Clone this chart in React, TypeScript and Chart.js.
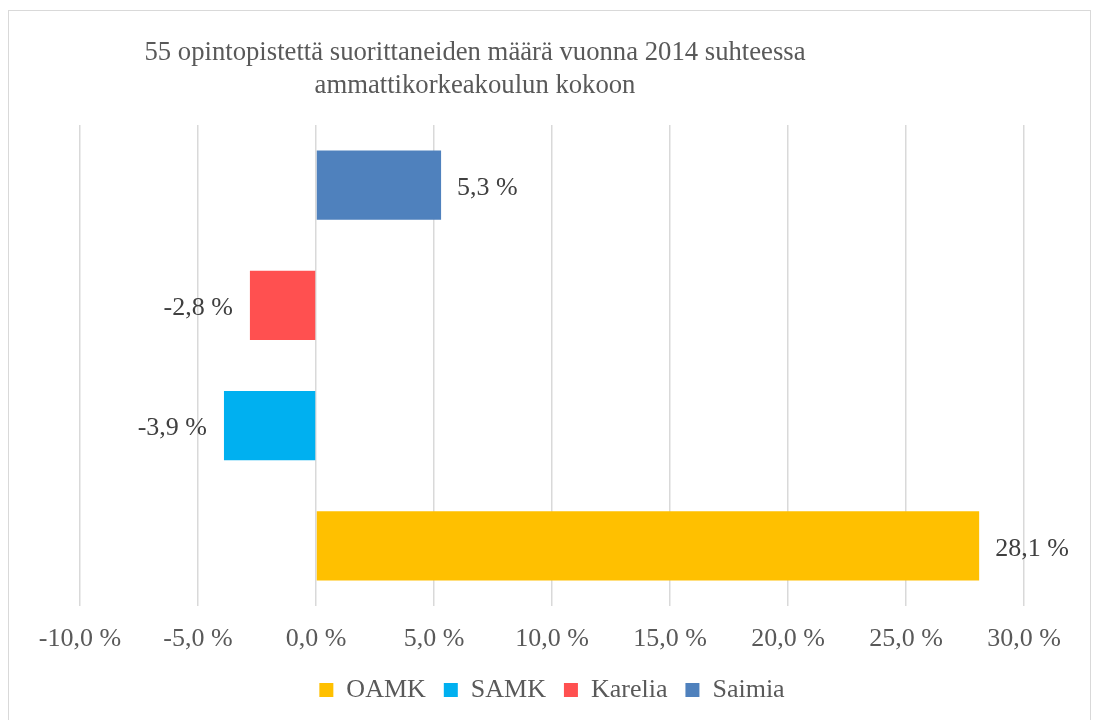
import React, { useEffect, useRef } from "react";
import { Chart, registerables } from "chart.js";

Chart.register(...registerables);

const categories: string[] = ["2014"];
const seriesNames: string[] = ["Saimia", "Karelia", "SAMK", "OAMK"];
const seriesValues: number[] = [5.3, -2.8, -3.9, 28.1];
const seriesColors: string[] = ["#4F81BD", "#FF5050", "#00B0F0", "#FFC000"];
const titleLines: string[] = [
  "55 opintopistettä suorittaneiden määrä vuonna 2014 suhteessa",
  "ammattikorkeakoulun kokoon",
];
const xMin = -10;
const xMax = 30;
const xStep = 5;

const FONT = "'Liberation Serif', 'Times New Roman', serif";
const fmt = (v: number) => v.toFixed(1).replace(".", ",") + " %";

const framePlugin = {
  id: "frame",
  beforeDraw(chart: any) {
    const ctx = chart.ctx;
    ctx.save();
    ctx.fillStyle = "#ffffff";
    ctx.fillRect(0, 0, chart.width, chart.height);
    ctx.strokeStyle = "#d9d9d9";
    ctx.lineWidth = 1;
    ctx.strokeRect(8.5, 10.5, 1082, 730);
    ctx.restore();
  },
  afterDraw(chart: any) {
    const ctx = chart.ctx;
    ctx.save();
    ctx.fillStyle = "#595959";
    ctx.font = `26.7px ${FONT}`;
    ctx.textAlign = "center";
    ctx.textBaseline = "alphabetic";
    ctx.fillText(titleLines[0], 475, 60);
    ctx.fillText(titleLines[1], 475, 93);
    ctx.restore();
  },
};

const labelPlugin = {
  id: "valueLabels",
  afterDatasetsDraw(chart: any) {
    const ctx = chart.ctx;
    ctx.save();
    ctx.fillStyle = "#404040";
    ctx.font = `26px ${FONT}`;
    ctx.textBaseline = "middle";
    chart.data.datasets.forEach((ds: any, i: number) => {
      const meta = chart.getDatasetMeta(i);
      meta.data.forEach((el: any, j: number) => {
        const v = ds.data[j] as number;
        if (v >= 0) {
          ctx.textAlign = "left";
          ctx.fillText(fmt(v), el.x + 16, el.y + 3);
        } else {
          ctx.textAlign = "right";
          ctx.fillText(fmt(v), el.x - 17, el.y + 3);
        }
      });
    });
    ctx.restore();
  },
};

export default function App() {
  const ref = useRef<HTMLCanvasElement | null>(null);
  useEffect(() => {
    document.body.style.margin = "0";
    document.body.style.overflow = "hidden";
    const canvas = ref.current!;
    const chart = new Chart(canvas, {
      type: "bar",
      data: {
        labels: categories,
        datasets: seriesNames.map((name, i) => ({
          label: name,
          data: [seriesValues[i]],
          backgroundColor: seriesColors[i],
          borderWidth: 0,
          categoryPercentage: 1,
          barPercentage: 0.575,
        })),
      },
      options: {
        indexAxis: "y",
        animation: false,
        responsive: false,
        maintainAspectRatio: false,
        layout: { padding: { top: 125, left: 80, right: 70, bottom: 7 } },
        scales: {
          x: {
            min: xMin,
            max: xMax,
            afterFit: (scale: any) => {
              scale.height = 53;
            },
            ticks: {
              stepSize: xStep,
              color: "#595959",
              font: { family: FONT, size: 26, lineHeight: 42 / 26 },
              padding: 12,
              callback: (v: any) => fmt(Number(v)),
            },
            grid: { color: "#d9d9d9", lineWidth: 1.5, drawTicks: false },
            border: { display: false },
          },
          y: { display: false },
        },
        plugins: {
          legend: {
            position: "bottom",
            reverse: true,
            labels: {
              color: "#595959",
              font: { family: FONT, size: 26 },
              boxWidth: 14,
              boxHeight: 14,
              padding: 18,
            },
          },
          tooltip: { enabled: false },
          title: { display: false },
        },
      },
      plugins: [framePlugin, labelPlugin],
    } as any);
    return () => chart.destroy();
  }, []);
  return (
    <canvas ref={ref} width={1094} height={720} style={{ display: "block" }} />
  );
}
